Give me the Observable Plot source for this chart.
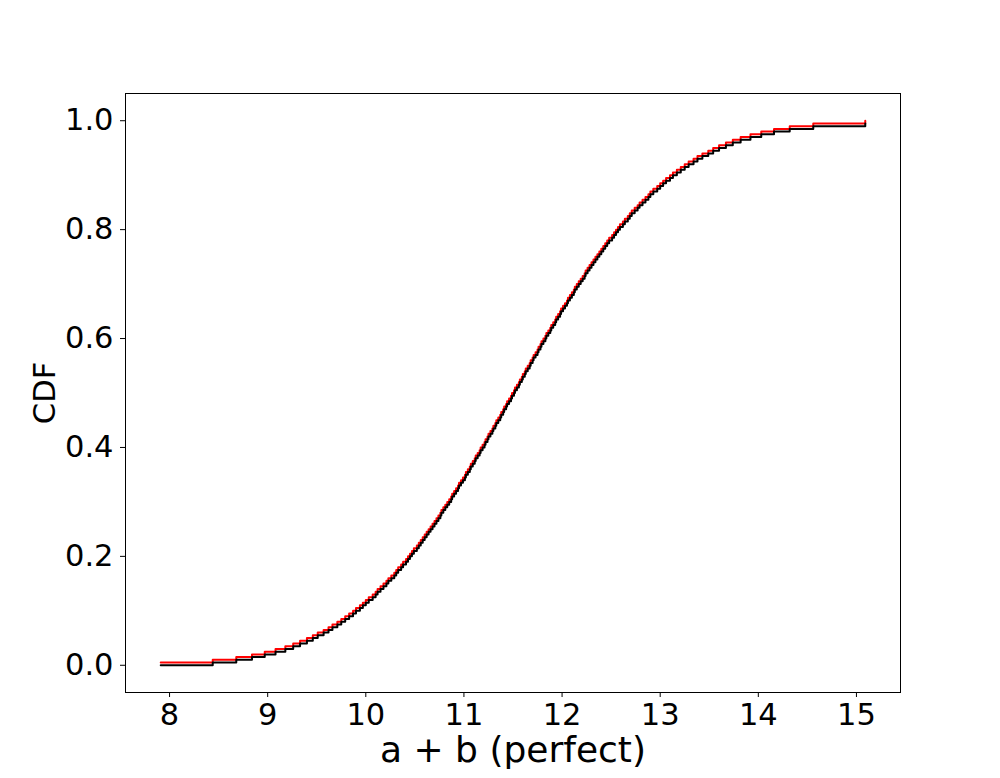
<!DOCTYPE html>
<html>
<head>
<meta charset="utf-8">
<script src="https://cdn.jsdelivr.net/npm/d3@7"></script>
<script src="https://cdn.jsdelivr.net/npm/@observablehq/plot@0.6"></script>
<style>
  html, body { margin: 0; padding: 0; background: #fff; overflow: hidden; }
</style>
</head>
<body>
<div id="chart"></div>
<script>
const sums = [
  7.91, 8.44, 8.68, 8.84, 8.97, 9.08, 9.18, 9.26, 9.33, 9.40,
  9.46, 9.51, 9.57, 9.62, 9.66, 9.71, 9.75, 9.79, 9.83, 9.87,
  9.90, 9.94, 9.97, 10.00, 10.03, 10.07, 10.10, 10.12, 10.15, 10.18,
  10.21, 10.23, 10.26, 10.29, 10.31, 10.33, 10.36, 10.38, 10.41, 10.43,
  10.45, 10.47, 10.49, 10.52, 10.54, 10.56, 10.58, 10.60, 10.62, 10.64,
  10.66, 10.68, 10.70, 10.72, 10.74, 10.76, 10.77, 10.79, 10.81, 10.83,
  10.85, 10.87, 10.88, 10.90, 10.92, 10.94, 10.95, 10.97, 10.99, 11.01,
  11.02, 11.04, 11.06, 11.07, 11.09, 11.11, 11.12, 11.14, 11.16, 11.17,
  11.19, 11.21, 11.22, 11.24, 11.25, 11.27, 11.29, 11.30, 11.32, 11.33,
  11.35, 11.37, 11.38, 11.40, 11.41, 11.43, 11.44, 11.46, 11.48, 11.49,
  11.51, 11.52, 11.54, 11.56, 11.57, 11.59, 11.60, 11.62, 11.63, 11.65,
  11.67, 11.68, 11.70, 11.71, 11.73, 11.75, 11.76, 11.78, 11.79, 11.81,
  11.83, 11.84, 11.86, 11.88, 11.89, 11.91, 11.93, 11.94, 11.96, 11.98,
  11.99, 12.01, 12.03, 12.05, 12.06, 12.08, 12.10, 12.12, 12.13, 12.15,
  12.17, 12.19, 12.21, 12.23, 12.24, 12.26, 12.28, 12.30, 12.32, 12.34,
  12.36, 12.38, 12.40, 12.42, 12.44, 12.46, 12.48, 12.51, 12.53, 12.55,
  12.57, 12.59, 12.62, 12.64, 12.67, 12.69, 12.71, 12.74, 12.77, 12.79,
  12.82, 12.85, 12.88, 12.90, 12.93, 12.97, 13.00, 13.03, 13.06, 13.10,
  13.13, 13.17, 13.21, 13.25, 13.29, 13.34, 13.38, 13.43, 13.49, 13.54,
  13.60, 13.67, 13.74, 13.82, 13.92, 14.03, 14.16, 14.32, 14.56, 15.09
];

const xTicks = [8, 9, 10, 11, 12, 13, 14, 15];
const yTicks = [0.0, 0.2, 0.4, 0.6, 0.8, 1.0];
const xLabel = "a + b (perfect)";
const yLabel = "CDF";

const n = sums.length;
const upperCdf = sums.map((x, i) => ({x, y: (i + 1) / n})); // red
const lowerCdf = sums.map((x, i) => ({x, y: i / n}));       // black

const chart = Plot.plot({
  width: 1000,
  height: 778,
  marginLeft: 125,
  marginRight: 100,
  marginTop: 93,
  marginBottom: 86,
  x: {domain: [7.551, 15.449]},
  y: {domain: [-0.05, 1.05]},
  style: {fontFamily: "'DejaVu Sans', sans-serif", fontSize: "30px", background: "#fff", color: "#000"},
  marks: [
    Plot.line(upperCdf, {x: "x", y: "y", stroke: "red", strokeWidth: 2, curve: "step-after"}),
    Plot.line(lowerCdf, {x: "x", y: "y", stroke: "black", strokeWidth: 2, curve: "step-after"}),
    Plot.frame({stroke: "black", strokeWidth: 1}),
    Plot.axisX({ticks: xTicks, tickSize: 5, tickPadding: 6, label: null, fontSize: 30.5, tickFormat: d3.format("d")}),
    Plot.axisY({ticks: yTicks, tickSize: 5, tickPadding: 7, label: null, fontSize: 30.5, tickFormat: d3.format(".1f")}),
    Plot.text([xLabel], {frameAnchor: "bottom", dy: 58, text: d => d, fontSize: 36, textAnchor: "middle", lineAnchor: "middle", fill: "black"}),
    Plot.text([yLabel], {frameAnchor: "left", dx: -80, text: d => d, fontSize: 30.5, rotate: -90, textAnchor: "middle", lineAnchor: "middle", fill: "black"})
  ]
});
document.getElementById("chart").appendChild(chart);
</script>
</body>
</html>
